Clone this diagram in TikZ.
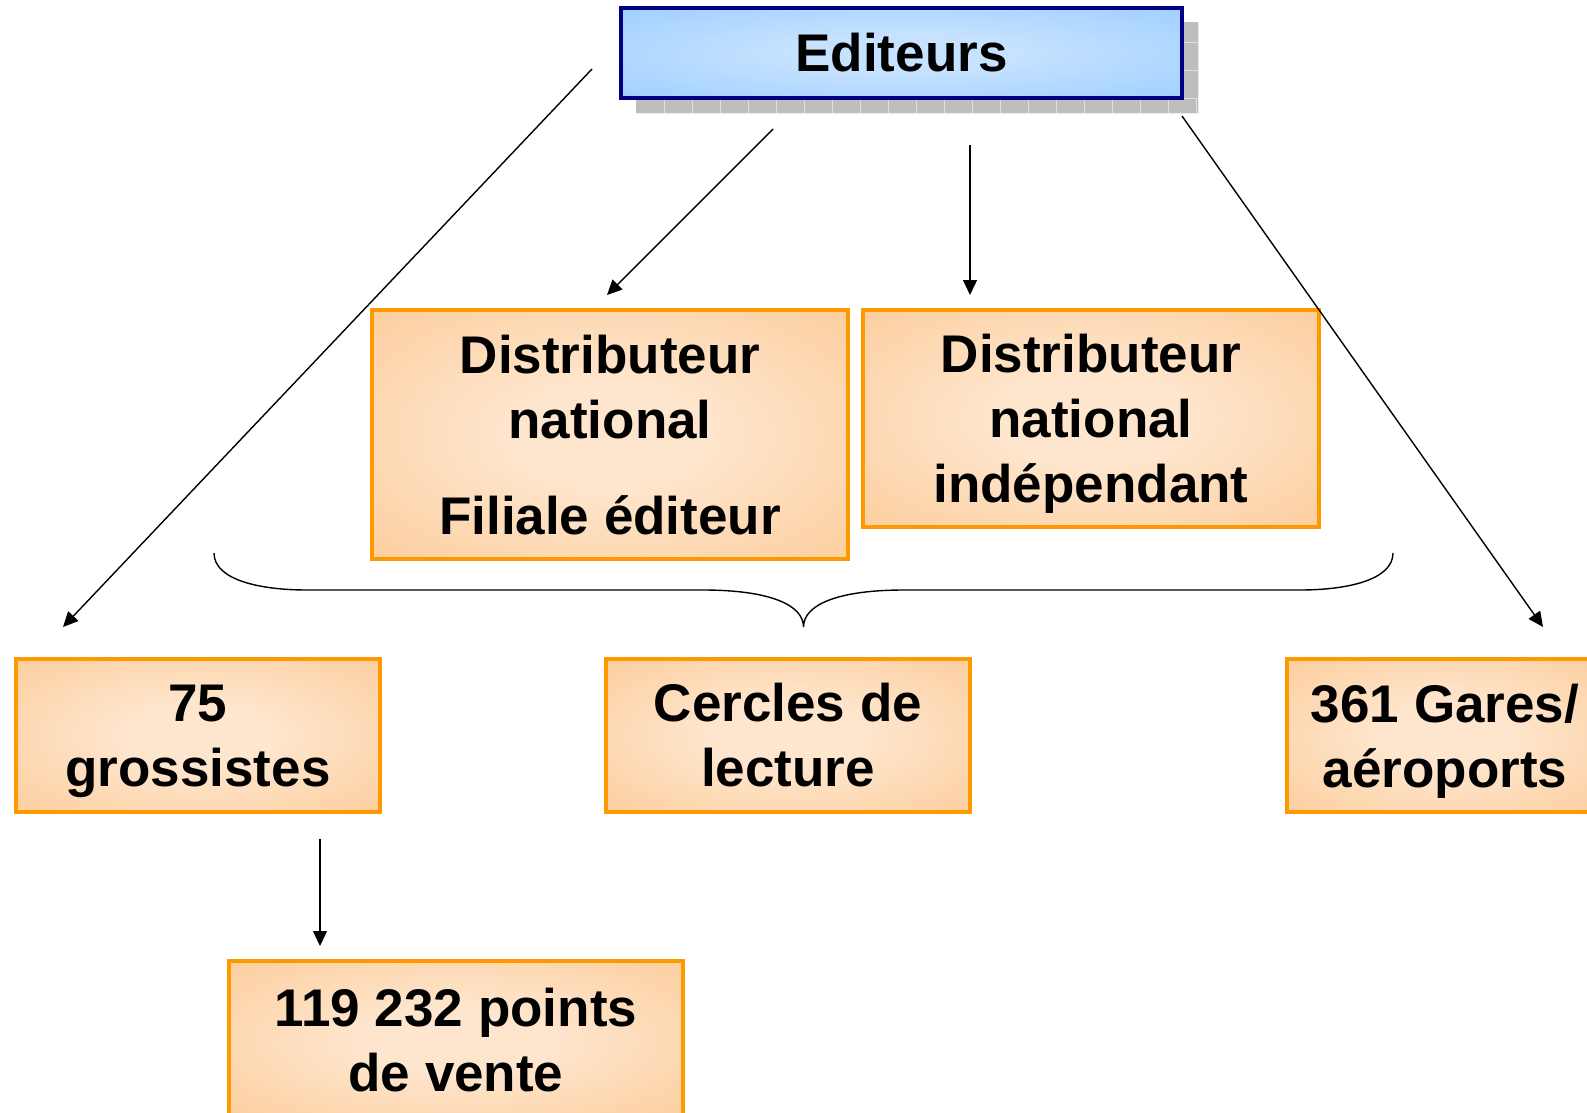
\documentclass[tikz,border=0pt]{standalone}
\usepackage{fontspec}
\setmainfont{Liberation Sans}
\usetikzlibrary{arrows.meta}
\definecolor{orbord}{HTML}{FF9900}
\definecolor{orin}{HTML}{FEE6CE}
\definecolor{orout}{HTML}{FCCA96}
\definecolor{blin}{HTML}{C6E2FF}
\definecolor{blout}{HTML}{99CCFF}
\definecolor{navyb}{HTML}{000080}
\definecolor{shadowg}{HTML}{BDBDBD}
\newcommand\nodp[1]{\raisebox{0pt}[\height][0pt]{#1}}
\pgfdeclareradialshading{orshade}{\pgfpointorigin}{color(0bp)=(orin); color(10bp)=(orin); color(40bp)=(orout); color(50bp)=(orout)}
\pgfdeclareradialshading{blshade}{\pgfpointorigin}{color(0bp)=(blin); color(10bp)=(blin); color(40bp)=(blout); color(50bp)=(blout)}
\begin{document}
\begin{tikzpicture}[x=1pt,y=-1pt,
  box/.style={draw=orbord, line width=4pt, shading=orshade, rectangle, inner sep=0pt, align=center,
    font=\fontsize{53}{65}\selectfont\bfseries},
  arr/.style={line width=1.4pt, -{Triangle[length=15pt,width=14pt]}}]
\useasboundingbox (0,0) rectangle (1587,1113);
\clip (0,0) rectangle (1587,1113);
% shadow of Editeurs
\fill[shadowg] (636,22) rectangle (1198,114);
\foreach \x in {664,692,...,1196} \draw[white!75!gray, line width=0.8pt] (\x,98) -- (\x,114);
\foreach \y in {42,70,98} \draw[white!75!gray, line width=0.8pt] (1182,\y) -- (1198,\y);
\draw[white!85!gray, line width=1pt] (636,114) -- (1198,114) -- (1198,22);
% Editeurs
\node[draw=navyb, line width=4pt, shading=blshade, rectangle, inner sep=0pt,
  minimum width=561pt, minimum height=90pt, font=\fontsize{53}{65}\selectfont\bfseries]
  (ed) at (901.5,53) {Editeurs};
% boxes
\node[box, minimum width=476pt, minimum height=249pt] (dn) at (610,434.5)
  {Distributeur\\national\\[31pt]\raisebox{0pt}[\height][-3pt]{Filiale éditeur}};
\node[box, minimum width=456pt, minimum height=217pt] (dni) at (1091,418.5)
  {Distributeur\\national\\\nodp{indépendant}};
\node[box, minimum width=364pt, minimum height=153pt] (gr) at (198,735.5)
  {75\\\nodp{grossistes}};
\node[box, minimum width=364pt, minimum height=153pt] (cl) at (788,735.5)
  {Cercles de\\lecture};
\node[box, minimum width=316pt, minimum height=153pt] (ga) at (1445,735.5)
  {361 Gares/\\\nodp{aéroports}};
\node[box, minimum width=454pt, minimum height=158pt] (pv) at (456,1040)
  {119 232 points\\de vente};
% arrow ends
\coordinate (s1) at (592,69);   \coordinate (e1) at (63,627);
\coordinate (s2) at (773,129);  \coordinate (e2) at (607,295);
\coordinate (s3) at (970,145);  \coordinate (e3) at (970,295);
\coordinate (s4) at (1182,116); \coordinate (e4) at (1543,627);
\coordinate (s5) at (320,839);  \coordinate (e5) at (320,946);
\draw[arr] (s1) -- (e1);
\draw[arr] (s2) -- (e2);
\draw[arr] (s3) -- (e3);
\draw[arr] (s4) -- (e4);
\draw[arr] (s5) -- (e5);
% brace
\coordinate (bl) at (214,553);
\coordinate (bt) at (803.5,627);
\coordinate (br) at (1393,553);
\draw[line width=1.4pt] (bl) .. controls (214,580) and (260,590) .. (307,590) -- (703,590)
  .. controls (770,590) and (803.5,605) .. (bt)
  .. controls (803.5,605) and (837,590) .. (904,590) -- (1300,590)
  .. controls (1347,590) and (1393,580) .. (br);
\end{tikzpicture}
\end{document}
